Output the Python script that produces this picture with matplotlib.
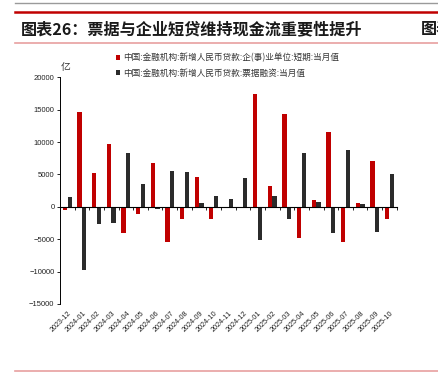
import matplotlib
matplotlib.use('Agg')
import matplotlib.pyplot as plt
import matplotlib.transforms as mtransforms
from matplotlib.lines import Line2D
import numpy as np

plt.rcParams['font.family'] = ['Noto Sans CJK SC', 'DejaVu Sans']

months = ['2023-12', '2024-01', '2024-02', '2024-03', '2024-04', '2024-05',
          '2024-06', '2024-07', '2024-08', '2024-09', '2024-10', '2024-11',
          '2024-12', '2025-01', '2025-02', '2025-03', '2025-04', '2025-05',
          '2025-06', '2025-07', '2025-08', '2025-09', '2025-10']
short_loans = [-550, 14600, 5250, 9700, -4050, -1150, 6700, -5450, -1850, 4550,
               -1850, 30, -200, 17350, 3250, 14350, -4850, 1050, 11550, -5450,
               650, 7100, -1900]
bill_fin = [1550, -9700, -2650, -2450, 8350, 3500, -350, 5550, 5400, 550,
            1650, 1250, 4500, -5100, 1700, -1950, 8250, 700, -4050, 8700,
            450, -3950, 5000]
series_names = ['中国:金融机构:新增人民币贷款:企(事)业单位:短期:当月值',
                '中国:金融机构:新增人民币贷款:票据融资:当月值']
yticks = [-15000, -10000, -5000, 0, 5000, 10000, 15000, 20000]
title = '图表26：票据与企业短贷维持现金流重要性提升'

RED = '#C00000'
DARK = '#2B2B2B'
W, H = 439, 378

fig = plt.figure(figsize=(W / 100, H / 100), dpi=100)
fig.patch.set_facecolor('white')

def fx(px):
    return px / W

def fy(py):
    return 1 - py / H

ax = fig.add_axes([fx(60), fy(304), (396.7 - 60) / W, (304 - 77.3) / H])
x = np.arange(len(months))
b1 = ax.bar(x - 0.16, short_loans, width=0.29, color=RED, label=series_names[0])
b2 = ax.bar(x + 0.16, bill_fin, width=0.29, color=DARK, label=series_names[1])

ax.set_xlim(-0.5, len(months) - 0.5)
ax.set_ylim(-15000, 20000)
ax.set_yticks(yticks)
ax.set_yticklabels([str(v).replace('-', '\u2212') for v in yticks],
                   family='Liberation Sans', fontsize=5.5, color='#222222')
ax.tick_params(axis='y', direction='out', length=2, width=0.6, pad=2)

for s in ['top', 'right']:
    ax.spines[s].set_visible(False)
ax.spines['left'].set_linewidth(0.7)
ax.spines['bottom'].set_position(('data', 0))
ax.spines['bottom'].set_linewidth(0.8)
ax.set_xticks(np.arange(-0.5, len(months), 1.0))
ax.set_xticklabels([])
ax.tick_params(axis='x', direction='out', length=2, width=0.6)

trans = mtransforms.blended_transform_factory(ax.transData, ax.transAxes)
for i, m in enumerate(months):
    ax.text(i + 0.05, -0.025, m, transform=trans, rotation=45, ha='right',
            va='top', rotation_mode='anchor', fontsize=5.2,
            family='Liberation Sans', color='#222222')

# unit label
fig.text(fx(66), fy(67), '亿', fontsize=7, ha='center', va='center', color='#333333')

# legend
fig.legend(handles=[b1, b2], labels=series_names, loc='upper left',
           bbox_to_anchor=(fx(116), fy(53)), frameon=False,
           handlelength=0.5, handleheight=0.5, handletextpad=0.3,
           borderpad=0, borderaxespad=0, labelspacing=0.7,
           prop={'size': 6.2}, labelcolor='#333333')

# decorative lines and title
fig.add_artist(Line2D([fx(15), 1], [fy(3.3), fy(3.3)], color='#9A9A9A', lw=1.0))
fig.add_artist(Line2D([fx(15), 1], [fy(11.7), fy(11.7)], color=RED, lw=1.8))
fig.add_artist(Line2D([fx(15), 1], [fy(43), fy(43)], color='#E8A0A0', lw=1.2))
fig.add_artist(Line2D([fx(15), 1], [fy(371), fy(371)], color='#E8A0A0', lw=1.2))
fig.text(fx(21), fy(29), title, fontsize=11.6, fontweight='bold', ha='left',
         va='center', color='#1A1A1A')
fig.text(fx(421), fy(29), '图表27', fontsize=11.6, fontweight='bold', ha='left',
         va='center', color='#1A1A1A')

fig.savefig('out.png', dpi=100, facecolor='white')
